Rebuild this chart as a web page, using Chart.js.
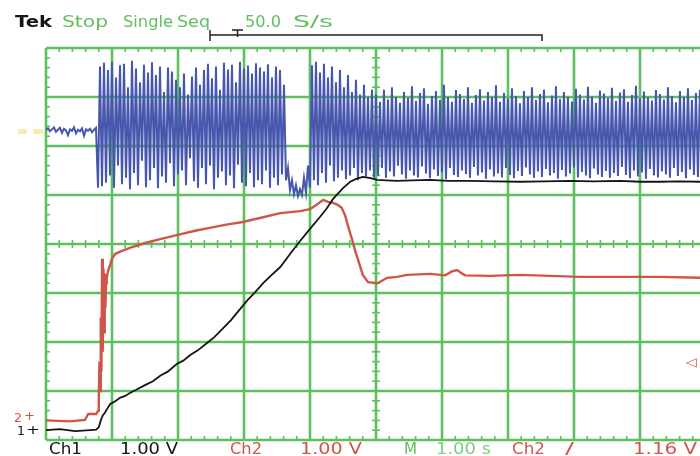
<!DOCTYPE html>
<html><head><meta charset="utf-8">
<script src="https://cdn.jsdelivr.net/npm/chart.js@4.4.0/dist/chart.umd.min.js"></script>
<style>html,body{margin:0;padding:0;background:#fff;overflow:hidden}#wrap{width:700px;height:456px;position:relative}</style>
</head><body><div id="wrap"><canvas id="c" width="700" height="456"></canvas></div>
<script>
// Horizontal divisions (1.00 s/div) and vertical divisions (1.00 V/div)
const xDivisions = [0,1,2,3,4,5,6,7,8,9,10];
const yDivisions = [-4,-3,-2,-1,0,1,2,3,4];

// Channel 1 (black)
const ch1Time  = [0,0.21,0.44,0.67,0.76,0.8,0.83,0.86,0.89,0.92,0.97,1.06,1.12,1.2,1.27,1.36,1.5,1.62,1.73,1.85,1.98,2.08,2.18,2.3,2.44,2.55,2.64,2.8,2.94,3.05,3.17,3.29,3.42,3.55,3.7,3.85,4.0,4.15,4.25,4.35,4.5,4.61,4.7,4.8,4.9,5.02,5.15,5.32,5.55,5.82,6.1,6.42,6.8,7.18,7.55,7.94,8.3,8.7,9.0,9.3,9.6,9.91];
const ch1Volts = [-3.8,-3.78,-3.82,-3.8,-3.79,-3.74,-3.6,-3.5,-3.45,-3.38,-3.27,-3.2,-3.14,-3.1,-3.04,-2.98,-2.88,-2.8,-2.69,-2.6,-2.45,-2.38,-2.27,-2.17,-2.02,-1.9,-1.78,-1.56,-1.33,-1.15,-0.98,-0.8,-0.63,-0.47,-0.2,0.06,0.31,0.55,0.72,0.92,1.14,1.27,1.33,1.37,1.35,1.31,1.30,1.29,1.30,1.31,1.29,1.29,1.28,1.27,1.28,1.29,1.28,1.29,1.27,1.27,1.28,1.27];

// Channel 2 (red)
const ch2Time  = [0,0.36,0.59,0.64,0.76,0.79,0.8,0.81,0.82,0.83,0.84,0.85,0.86,0.87,0.88,0.89,0.9,0.91,0.92,0.94,0.97,1.0,1.05,1.15,1.27,1.5,1.73,1.98,2.26,2.48,2.71,2.98,3.24,3.55,3.85,4.0,4.12,4.2,4.27,4.35,4.42,4.48,4.53,4.58,4.64,4.68,4.73,4.8,4.88,5.02,5.17,5.32,5.47,5.82,6.05,6.15,6.23,6.3,6.35,6.73,7.18,7.64,8.09,8.7,9.3,9.91];
const ch2Volts = [-3.6,-3.62,-3.59,-3.47,-3.47,-3.4,-3.1,-2.4,-3.0,-1.5,-2.6,-0.3,-2.2,-0.5,-1.8,-0.6,-1.3,-0.8,-0.7,-0.55,-0.43,-0.3,-0.2,-0.14,-0.08,0.02,0.1,0.18,0.27,0.33,0.39,0.45,0.53,0.63,0.67,0.71,0.82,0.9,0.86,0.84,0.8,0.74,0.59,0.35,0.08,-0.12,-0.33,-0.63,-0.78,-0.8,-0.69,-0.67,-0.63,-0.61,-0.64,-0.56,-0.53,-0.6,-0.64,-0.65,-0.63,-0.65,-0.67,-0.67,-0.67,-0.69];

// Blue trace, sampled record (start time and sample interval in s)
const blueStart = 0;
const blueStep = 0.0303;
const blueVolts = [
 2.33,2.36,2.30,2.34,2.38,2.29,2.33,2.37,2.27,2.35,2.32,2.22,2.34,2.31,2.38,2.26,2.33,2.30,2.36,2.21,2.34,2.31,2.35,2.28,2.33,2.37,
 1.15,
 3.62,1.18,3.70,1.25,3.55,1.40,3.72,1.15,3.40,1.60,3.65,1.22,3.68,1.35,3.20,1.12,3.74,1.45,3.58,1.20,
 3.30,1.70,3.66,1.16,3.50,1.30,3.71,1.55,3.45,1.14,3.62,1.38,3.10,1.25,3.60,1.65,3.52,1.18,3.35,1.42,
 3.20,1.50,3.48,1.20,3.05,1.75,3.42,1.28,3.60,1.15,3.25,1.55,3.55,1.22,3.68,1.60,3.38,1.12,3.62,1.35,
 3.15,1.48,3.70,1.20,3.56,1.40,3.66,1.14,3.30,1.62,3.72,1.25,3.58,1.18,3.64,1.45,3.48,1.16,3.69,1.30,
 3.60,1.22,3.52,1.50,3.67,1.15,3.40,1.35,3.62,1.20,3.55,1.42,3.25,1.30,
 1.55,1.10,1.30,1.02,1.20,0.98,1.12,1.00,1.35,1.05,1.60,1.15,
 3.65,1.30,3.72,1.20,3.50,1.45,3.68,1.25,3.40,1.60,3.62,1.28,3.30,1.35,3.55,1.50,
 3.20,1.32,3.45,1.40,3.10,1.55,3.35,1.30,3.05,1.45,3.25,1.38,3.00,1.50,3.15,1.35,
 3.05,1.40,2.90,1.55,3.15,1.35,2.95,1.48,3.20,1.38,3.00,1.60,2.88,1.42,3.10,1.33,2.98,1.50,3.22,1.40,
 2.92,1.36,3.08,1.58,3.18,1.44,2.86,1.34,3.02,1.52,3.12,1.39,2.94,1.46,3.25,1.32,3.00,1.55,2.90,1.41,
 3.14,1.37,3.06,1.50,2.96,1.43,3.20,1.35,2.88,1.57,3.04,1.40,3.16,1.46,2.93,1.33,3.10,1.52,3.00,1.38,
 3.24,1.44,2.90,1.36,3.08,1.55,2.97,1.41,3.18,1.34,3.02,1.49,2.87,1.39,3.12,1.56,3.00,1.42,3.20,1.35,
 2.94,1.48,3.06,1.37,3.15,1.53,2.89,1.40,3.03,1.45,3.22,1.33,2.96,1.51,3.10,1.38,3.00,1.44,2.91,1.56,
 3.17,1.36,3.05,1.47,2.95,1.40,3.21,1.34,3.01,1.54,2.88,1.42,3.13,1.37,3.07,1.49,2.98,1.35,3.19,1.45,
 2.92,1.39,3.09,1.57,3.16,1.41,2.90,1.34,3.04,1.50,3.23,1.38,2.97,1.46,3.11,1.33,3.00,1.53,2.93,1.40,
 3.14,1.36,3.06,1.48,2.95,1.42,3.20,1.35,3.02,1.55,
 2.89,1.39,3.12,1.47,3.00,1.34,3.18,1.52,2.94,1.41,3.08,1.37,3.15,1.49,2.97,1.36,3.05,1.45,3.10,1.40
];

const GREEN = '#5dbf5d', RED = '#cf5549', BLACK = '#151515', BLUE = '#4757ad';

function fitText(ctx, text, x, base, w, font, color) {
  ctx.save();
  ctx.font = font; ctx.fillStyle = color; ctx.textBaseline = 'alphabetic';
  const m = ctx.measureText(text).width;
  ctx.translate(x, base); ctx.scale(w / m, 1);
  ctx.fillText(text, 0, 0);
  ctx.restore();
}

const scopeGrid = {
  id: 'scopeGrid',
  beforeDatasetsDraw(chart) {
    const {ctx, scales: {x, y}} = chart;
    const top = y.getPixelForValue(4), bot = y.getPixelForValue(-4);
    const left = x.getPixelForValue(0), right = x.getPixelForValue(10);
    ctx.save();
    ctx.strokeStyle = GREEN; ctx.lineWidth = 2.6;
    xDivisions.forEach(v => { const p = x.getPixelForValue(v); ctx.beginPath(); ctx.moveTo(p, top); ctx.lineTo(p, bot); ctx.stroke(); });
    yDivisions.forEach(v => { const p = y.getPixelForValue(v); ctx.beginPath(); ctx.moveTo(left, p); ctx.lineTo(right, p); ctx.stroke(); });
    ctx.lineWidth = 1.6;
    const cy = y.getPixelForValue(0), cx = x.getPixelForValue(5);
    for (let k = 0; k <= 50; k++) {
      const p = x.getPixelForValue(k * 0.2);
      ctx.beginPath(); ctx.moveTo(p, cy - 4); ctx.lineTo(p, cy + 4); ctx.stroke();
      ctx.beginPath(); ctx.moveTo(p, top); ctx.lineTo(p, top + 4); ctx.stroke();
      ctx.beginPath(); ctx.moveTo(p, bot); ctx.lineTo(p, bot - 4); ctx.stroke();
    }
    for (let k = -20; k <= 20; k++) {
      const p = y.getPixelForValue(k * 0.2);
      ctx.beginPath(); ctx.moveTo(cx - 4, p); ctx.lineTo(cx + 4, p); ctx.stroke();
      ctx.beginPath(); ctx.moveTo(left, p); ctx.lineTo(left + 4, p); ctx.stroke();
    }
    ctx.restore();
  },
  afterDraw(chart) {
    const ctx = chart.ctx;
    const f = s => s + 'px "DejaVu Sans"';
    // header
    fitText(ctx, 'Tek', 15, 27, 37, 'bold ' + f(15), BLACK);
    fitText(ctx, 'Stop', 62, 27, 46, f(16), GREEN);
    fitText(ctx, 'Single', 123, 27, 50, f(16), GREEN);
    fitText(ctx, 'Seq', 177, 27, 33, f(16), GREEN);
    fitText(ctx, '50.0', 245, 27, 36, f(16), GREEN);
    fitText(ctx, 'S/s', 293, 27, 40, f(16), GREEN);
    // trigger position bar
    ctx.save();
    ctx.strokeStyle = '#222'; ctx.lineWidth = 1.5;
    ctx.beginPath(); ctx.moveTo(210, 30); ctx.lineTo(210, 41); ctx.moveTo(210, 35); ctx.lineTo(542, 35); ctx.lineTo(542, 41); ctx.stroke();
    ctx.beginPath(); ctx.moveTo(232, 30); ctx.lineTo(243, 30); ctx.moveTo(237.5, 30); ctx.lineTo(237.5, 37); ctx.stroke();
    ctx.restore();
    // footer
    fitText(ctx, 'Ch1', 49, 454, 33, f(15), BLACK);
    fitText(ctx, '1.00 V', 120, 454, 58, f(15), BLACK);
    fitText(ctx, 'Ch2', 230, 454, 32, f(15), RED);
    fitText(ctx, '1.00 V', 300, 454, 62, f(15), RED);
    fitText(ctx, 'M', 404, 454, 13, f(15), GREEN);
    fitText(ctx, '1.00 s', 436, 454, 55, f(15), '#7fcf7f');
    fitText(ctx, 'Ch2', 512, 454, 33, f(15), RED);
    fitText(ctx, '/', 565, 454, 9, f(15), RED);
    fitText(ctx, '1.16 V', 633, 454, 64, f(15), RED);
    // channel markers
    fitText(ctx, '2', 14, 422, 8, f(12), RED);
    fitText(ctx, '+', 24, 420, 11, f(12), RED);
    fitText(ctx, '1', 17, 435, 8, f(12), BLACK);
    fitText(ctx, '+', 26, 434, 14, f(12), BLACK);
    ctx.save();
    ctx.fillStyle = 'rgba(240,225,110,0.55)';
    ctx.fillRect(18, 129, 9, 5); ctx.fillRect(33, 129, 10, 5);
    ctx.restore();
    fitText(ctx, '\u25C1', 686, 366, 11, f(12), RED);
  }
};

const toXY = (ts, vs) => vs.map((v, i) => ({x: ts[i], y: v}));
const blueData = blueVolts.map((v, i) => ({x: blueStart + i * blueStep, y: v}));

new Chart(document.getElementById('c'), {
  type: 'line',
  data: {
    datasets: [
      {label: 'Ch1', data: toXY(ch1Time, ch1Volts), borderColor: BLACK, borderWidth: 1.8, pointRadius: 0, tension: 0, order: 0},
      {label: 'Ch2', data: toXY(ch2Time, ch2Volts), borderColor: RED, borderWidth: 2.4, pointRadius: 0, tension: 0, order: 1},
      {label: 'Ch4', data: blueData, borderColor: BLUE, borderWidth: 2.0, pointRadius: 0, tension: 0, order: 2}
    ]
  },
  options: {
    responsive: false, devicePixelRatio: 1, animation: false,
    layout: {padding: {left: 46, top: 48, right: 0, bottom: 16}},
    plugins: {legend: {display: false}, tooltip: {enabled: false}},
    scales: {
      x: {type: 'linear', min: 0, max: 9.909, display: false},
      y: {type: 'linear', min: -4, max: 4, display: false}
    }
  },
  plugins: [scopeGrid]
});
</script>
</body></html>
